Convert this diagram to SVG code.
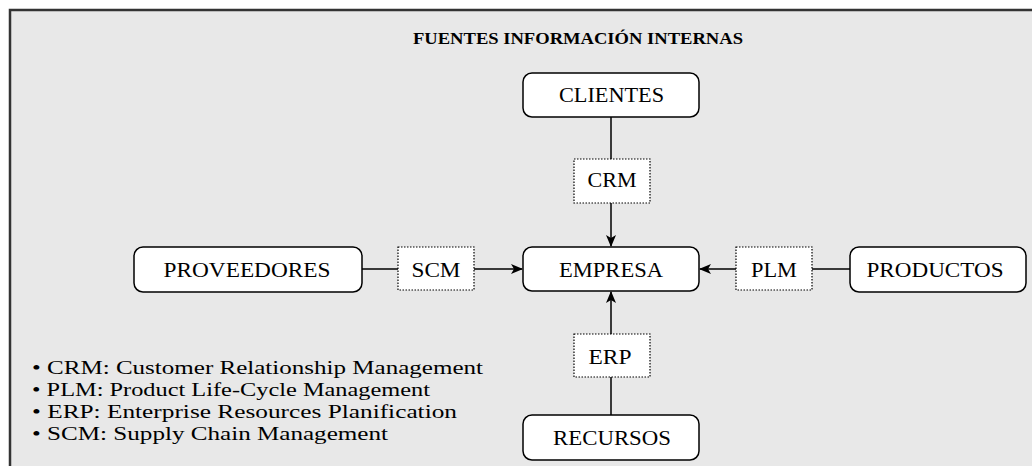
<svg xmlns="http://www.w3.org/2000/svg" width="1032" height="466" viewBox="0 0 1032 466">
<style>
.node rect{fill:#fff;stroke:#000;stroke-width:1.5}
.lab rect{fill:#fff;stroke:#000;stroke-width:1.2;stroke-dasharray:1.5 1.5}
.t{font-family:"Liberation Serif","Times New Roman",serif;font-size:20px;fill:#000;text-anchor:middle}
.leg{font-family:"Liberation Serif","Times New Roman",serif;font-size:19px;fill:#000}
.title{font-family:"Liberation Serif","Times New Roman",serif;font-size:17px;font-weight:bold;fill:#000}
.c{stroke:#000;stroke-width:1.5;fill:none}
</style>
<defs>
<marker id="arr" viewBox="0 0 12 10" refX="11" refY="5" markerWidth="12" markerHeight="10" markerUnits="userSpaceOnUse" orient="auto">
<path d="M0,0 L12,5 L0,10 L3,5 z" fill="#000"/>
</marker>
</defs>
<rect x="0" y="0" width="1032" height="466" fill="#fff"/>
<rect x="10" y="10" width="1040" height="470" fill="#e8e8e8" stroke="#333" stroke-width="2.5"/>
<text class="title" x="413" y="44" textLength="330" lengthAdjust="spacingAndGlyphs">FUENTES INFORMACIÓN INTERNAS</text>
<g id="connectors">
<line class="c" x1="611" y1="117" x2="611" y2="159"/>
<line class="c" x1="611" y1="203" x2="611" y2="246" marker-end="url(#arr)"/>
<line class="c" x1="611" y1="415" x2="611" y2="377"/>
<line class="c" x1="611" y1="334" x2="611" y2="292" marker-end="url(#arr)"/>
<line class="c" x1="362" y1="269" x2="398" y2="269"/>
<line class="c" x1="474" y1="269" x2="522" y2="269" marker-end="url(#arr)"/>
<line class="c" x1="850" y1="269" x2="812" y2="269"/>
<line class="c" x1="736" y1="269" x2="700" y2="269" marker-end="url(#arr)"/>
</g>
<g id="clientes" class="node"><rect x="523" y="73" width="176" height="44" rx="9"/><text class="t" x="611.5" y="102" textLength="105" lengthAdjust="spacingAndGlyphs">CLIENTES</text></g>
<g id="empresa" class="node"><rect x="523" y="247" width="176" height="44" rx="9"/><text class="t" x="611" y="277" textLength="104" lengthAdjust="spacingAndGlyphs">EMPRESA</text></g>
<g id="proveedores" class="node"><rect x="134" y="247" width="228" height="45" rx="9"/><text class="t" x="247" y="277" textLength="167" lengthAdjust="spacingAndGlyphs">PROVEEDORES</text></g>
<g id="productos" class="node"><rect x="850" y="247" width="176" height="45" rx="9"/><text class="t" x="935" y="277" textLength="137" lengthAdjust="spacingAndGlyphs">PRODUCTOS</text></g>
<g id="recursos" class="node"><rect x="523" y="415" width="176" height="45" rx="9"/><text class="t" x="612" y="445" textLength="118" lengthAdjust="spacingAndGlyphs">RECURSOS</text></g>
<g id="crm" class="lab"><rect x="574" y="159" width="76" height="44"/><text class="t" x="612" y="187" textLength="49" lengthAdjust="spacingAndGlyphs">CRM</text></g>
<g id="scm" class="lab"><rect x="398" y="247" width="76" height="43"/><text class="t" x="436" y="277" textLength="49" lengthAdjust="spacingAndGlyphs">SCM</text></g>
<g id="plm" class="lab"><rect x="736" y="247" width="76" height="43"/><text class="t" x="774" y="277" textLength="46" lengthAdjust="spacingAndGlyphs">PLM</text></g>
<g id="erp" class="lab"><rect x="574" y="334" width="76" height="43"/><text class="t" x="610" y="364" textLength="43" lengthAdjust="spacingAndGlyphs">ERP</text></g>
<g id="legend">
<text class="leg" x="32" y="374" textLength="451" lengthAdjust="spacingAndGlyphs">• CRM: Customer Relationship Management</text>
<text class="leg" x="32" y="396" textLength="398" lengthAdjust="spacingAndGlyphs">• PLM: Product Life-Cycle Management</text>
<text class="leg" x="32" y="418" textLength="425" lengthAdjust="spacingAndGlyphs">• ERP: Enterprise Resources Planification</text>
<text class="leg" x="32" y="440" textLength="356" lengthAdjust="spacingAndGlyphs">• SCM: Supply Chain Management</text>
</g>
</svg>
